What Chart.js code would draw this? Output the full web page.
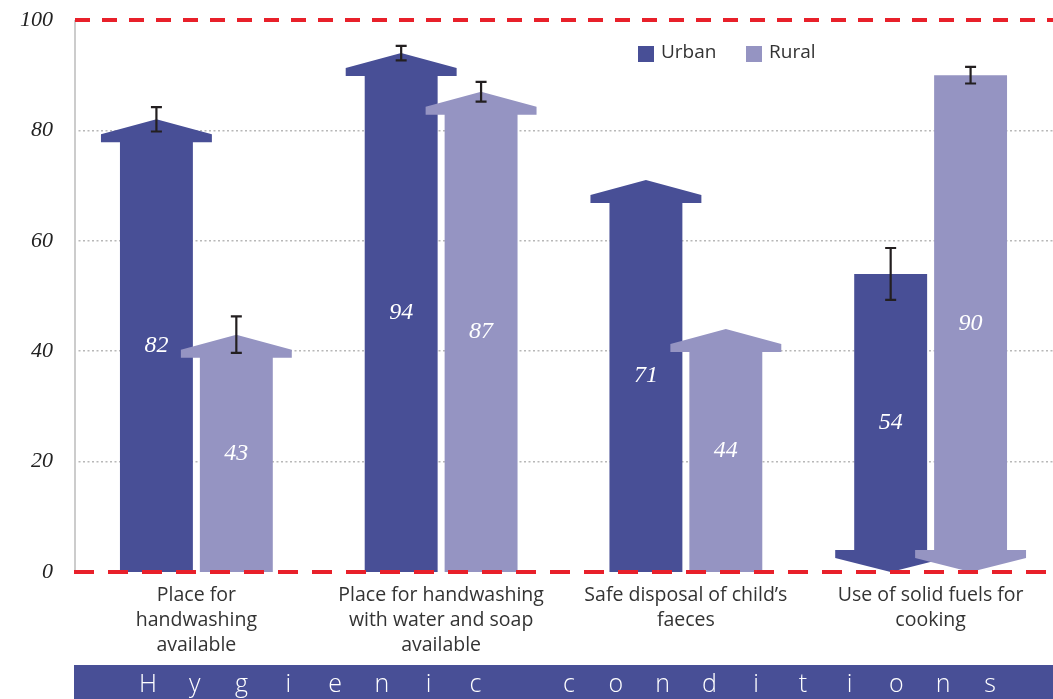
<!DOCTYPE html>
<html><head><meta charset="utf-8">
<script src="https://cdn.jsdelivr.net/npm/chart.js@4.4.0/dist/chart.umd.min.js"></script>
<style>html,body{margin:0;padding:0;background:#fff;overflow:hidden}</style>
</head><body>
<canvas id="c" width="1053" height="699"></canvas>
<script>
// ---- data ----
const categories = [
  ["Place for", "handwashing", "available"],
  ["Place for handwashing", "with water and soap", "available"],
  ["Safe disposal of child’s", "faeces"],
  ["Use of solid fuels for", "cooking"]
];
const seriesNames = ["Urban", "Rural"];
const urbanValues = [82, 94, 71, 54];
const ruralValues = [43, 87, 44, 90];
const urbanErrors = [2.2, 1.3, null, 4.7];
const ruralErrors = [3.3, 1.8, null, 1.5];
const arrowDirections = ["up", "up", "up", "down"];
const yTicks = [0, 20, 40, 60, 80, 100];
const bannerTitle = "Hygienic conditions";

// ---- styles ----
const URBAN = "#484f96";
const RURAL = "#9594c2";
const RED = "#e8202a";
const errorsByDataset = [urbanErrors, ruralErrors];

const arrowPlugin = {
  id: "arrows",
  beforeDatasetsDraw(chart) {
    const ctx = chart.ctx, ys = chart.scales.y, ca = chart.chartArea;
    ctx.save();
    ctx.strokeStyle = "#cccccc"; ctx.lineWidth = 2;
    ctx.beginPath(); ctx.moveTo(ca.left + 1, ys.getPixelForValue(100)); ctx.lineTo(ca.left + 1, ys.getPixelForValue(0)); ctx.stroke();
    const base = ys.getPixelForValue(0);
    chart.data.datasets.forEach((ds, di) => {
      const meta = chart.getDatasetMeta(di);
      meta.data.forEach((bar, i) => {
        const w = bar.width, x = bar.x, top = bar.y;
        const L = x - w / 2, R = x + w / 2, wing = 19;
        ctx.fillStyle = ds.backgroundColor;
        ctx.beginPath();
        if (arrowDirections[i] === "up") {
          const tip = top, wt = tip + 15, wb = tip + 23;
          ctx.moveTo(L, base); ctx.lineTo(L, wb); ctx.lineTo(L - wing, wb); ctx.lineTo(L - wing, wt);
          ctx.lineTo(x, tip); ctx.lineTo(R + wing, wt); ctx.lineTo(R + wing, wb); ctx.lineTo(R, wb); ctx.lineTo(R, base);
        } else {
          const tip = base, wb = tip - 14, wt = tip - 22;
          ctx.moveTo(L, top); ctx.lineTo(R, top); ctx.lineTo(R, wt); ctx.lineTo(R + wing, wt); ctx.lineTo(R + wing, wb);
          ctx.lineTo(x, tip); ctx.lineTo(L - wing, wb); ctx.lineTo(L - wing, wt); ctx.lineTo(L, wt);
        }
        ctx.closePath(); ctx.fill();
      });
    });
    ctx.restore();
    return false;
  },
  afterDraw(chart) {
    const ctx = chart.ctx, ys = chart.scales.y, ca = chart.chartArea;
    ctx.save();
    chart.data.datasets.forEach((ds, di) => {
      const meta = chart.getDatasetMeta(di);
      meta.data.forEach((bar, i) => {
        const v = ds.data[i];
        ctx.fillStyle = "#ffffff";
        ctx.font = "italic 24px 'Liberation Serif'";
        ctx.textAlign = "center"; ctx.textBaseline = "middle";
        ctx.fillText(String(v), bar.x, ys.getPixelForValue(v / 2));
        const e = errorsByDataset[di][i];
        if (e != null) {
          const hi = ys.getPixelForValue(v + e), lo = ys.getPixelForValue(v - e);
          ctx.strokeStyle = "#231f20"; ctx.lineWidth = 2.2;
          ctx.beginPath();
          ctx.moveTo(bar.x, hi); ctx.lineTo(bar.x, lo);
          ctx.moveTo(bar.x - 5.5, hi); ctx.lineTo(bar.x + 5.5, hi);
          ctx.moveTo(bar.x - 5.5, lo); ctx.lineTo(bar.x + 5.5, lo);
          ctx.stroke();
        }
      });
    });
    ctx.strokeStyle = RED; ctx.lineWidth = 4;
    ctx.setLineDash([15, 12]);
    ctx.beginPath(); ctx.moveTo(ca.left + 1, ys.getPixelForValue(100)); ctx.lineTo(chart.width, ys.getPixelForValue(100)); ctx.stroke();
    ctx.setLineDash([20, 14]);
    ctx.beginPath(); ctx.moveTo(ca.left, ys.getPixelForValue(0)); ctx.lineTo(chart.width, ys.getPixelForValue(0)); ctx.stroke();
    ctx.setLineDash([]);
    // legend
    ctx.font = "19px 'Open Sans'"; ctx.textAlign = "left"; ctx.textBaseline = "middle";
    const lx = [638, 746];
    chart.data.datasets.forEach((ds, di) => {
      ctx.fillStyle = ds.backgroundColor;
      ctx.fillRect(lx[di], 46, 16, 16);
      ctx.fillStyle = "#333333";
      ctx.fillText(ds.label, lx[di] + 23, 53);
    });
    // banner
    ctx.fillStyle = URBAN;
    ctx.fillRect(ca.left, 665, chart.width - ca.left, 34);
    ctx.fillStyle = "#ffffff";
    ctx.font = "300 25px 'Open Sans'"; ctx.textBaseline = "alphabetic"; ctx.textAlign = "center";
    const step = (990 - 148) / (bannerTitle.length - 1);
    for (let k = 0; k < bannerTitle.length; k++) {
      ctx.fillText(bannerTitle[k], 148 + k * step, 692);
    }
    ctx.restore();
  }
};

new Chart(document.getElementById("c"), {
  type: "bar",
  data: {
    labels: categories,
    datasets: [
      { label: seriesNames[0], data: urbanValues, backgroundColor: URBAN },
      { label: seriesNames[1], data: ruralValues, backgroundColor: RURAL }
    ]
  },
  options: {
    responsive: false,
    animation: false,
    devicePixelRatio: 1,
    categoryPercentage: 0.653,
    barPercentage: 0.9125,
    layout: { padding: { top: 20, left: 0, right: 0, bottom: 0 } },
    plugins: { legend: { display: false }, tooltip: { enabled: false } },
    scales: {
      x: {
        grid: { display: false },
        border: { display: false },
        ticks: { font: { family: "'Open Sans'", size: 19.5, lineHeight: 1.28 }, color: "#333333", padding: 3, maxRotation: 0, autoSkip: false },
        afterFit(s) { s.height = 127; s.paddingLeft = 0; s.paddingRight = 0; }
      },
      y: {
        min: 0, max: 100,
        afterBuildTicks(s) { s.ticks = yTicks.map(v => ({ value: v })); },
        grid: {
          color: c => (c.tick && (c.tick.value === 0 || c.tick.value === 100)) ? "rgba(0,0,0,0)" : "#b8b8b8",
          lineWidth: 1.5, drawTicks: false
        },
        border: { display: false, dash: [2, 2.5] },
        ticks: { font: { family: "'Liberation Serif'", size: 22, style: "italic" }, color: "#222222", padding: 21 },
        afterFit(s) { s.width = 74; s.paddingTop = 0; s.paddingBottom = 0; }
      }
    }
  },
  plugins: [arrowPlugin]
});
</script>
</body></html>
